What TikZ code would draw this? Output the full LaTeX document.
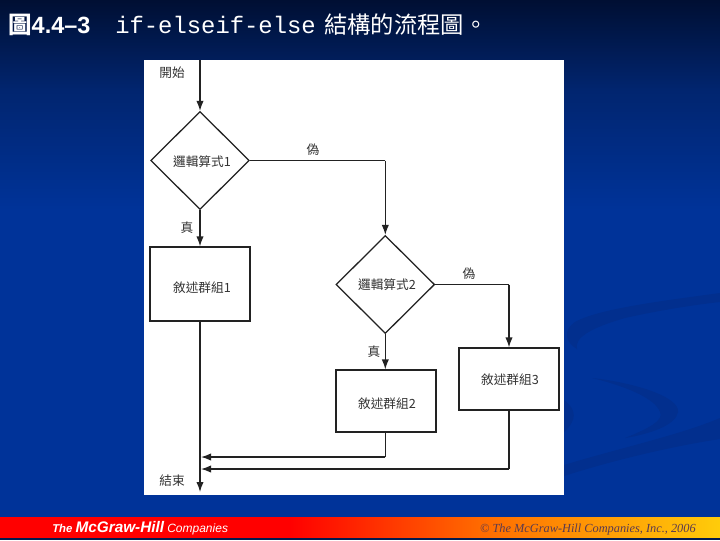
\documentclass[tikz,border=0pt]{standalone}
\usepackage{fontspec}
\setmainfont{Liberation Sans}
\newfontfamily\cjk{Noto Sans CJK TC}
\newfontfamily\monof{Liberation Mono}
\newfontfamily\serifit{Liberation Serif}
\usetikzlibrary{shapes.geometric,arrows.meta}
\definecolor{bgtop}{HTML}{000F33}
\definecolor{bgmid}{HTML}{01256F}
\definecolor{bgbot}{HTML}{003399}
\definecolor{ink}{HTML}{222222}
\definecolor{labelc}{HTML}{333333}
\definecolor{swoosh}{HTML}{022F8E}
\definecolor{footorange}{HTML}{FF6A00}
\definecolor{footyellow}{HTML}{FFCC0A}
\definecolor{copyc}{HTML}{5A3A50}
\tikzset{
  flow/.style={draw=ink,line width=0.95pt,fill=white,inner sep=0pt,text=labelc},
  boxnode/.style={flow,rectangle,minimum width=75pt,minimum height=#1},
  decision/.style={flow,diamond,minimum width=74pt,minimum height=73.5pt,aspect=1},
  lab/.style={text=labelc,font=\cjk\fontsize{9.5}{10}\selectfont,inner sep=0pt},
  link/.style={draw=ink,line width=0.95pt},
  arr/.style={link,-{Latex[length=7.5pt,width=5.5pt]}},
}
\begin{document}
\begin{tikzpicture}[x=0.75pt,y=-0.75pt]
\useasboundingbox (0,0) rectangle (720,540);
\fill[bgbot] (0,0) rectangle (720,517);
\shade[top color=bgtop,bottom color=bgmid] (0,0) rectangle (720,90);
\shade[top color=bgmid,bottom color=bgbot] (0,89.5) rectangle (720,210);
% swooshes
\fill[swoosh] (720,293) .. controls (670,300) and (600,308) .. (575,322) .. controls (563,330) and (565,342) .. (577,349) .. controls (574,338) and (590,328) .. (625,318) .. controls (660,310) and (700,304) .. (720,302) -- cycle;
\fill[swoosh] (592,378) .. controls (630,382) and (680,396) .. (678,412) .. controls (676,425) and (650,434) .. (625,438) .. controls (650,428) and (664,420) .. (660,412) .. controls (655,398) and (625,386) .. (592,378) -- cycle;
\fill[swoosh] (564,465) .. controls (620,448) and (680,435) .. (720,418) -- (720,439) .. controls (680,445) and (620,458) .. (564,476) -- cycle;
\fill[swoosh] (564,400) .. controls (577,410) and (577,420) .. (564,432) -- cycle;
% footer
\fill[red] (0,517) rectangle (290,538);
\shade[left color=red,right color=footorange] (289.5,517) rectangle (480,538);
\shade[left color=footorange,right color=footyellow] (479.5,517) rectangle (720,538);
\fill[bgmid!70!black] (0,538) rectangle (720,540);
% title
\node[anchor=west,inner sep=0pt,text=white] (ttl) at (8,25) {\fontsize{17.6}{18}\selectfont\bfseries{\cjk 圖}4.4--3};
\node[anchor=west,inner sep=0pt,text=white] (ttl2) at (115,25) {\monof\fontsize{17.9}{18}\selectfont if-elseif-else};
\node[anchor=west,inner sep=0pt,text=white] (ttl3) at (324,25) {\cjk\fontsize{17.5}{19}\selectfont 結構的流程圖。};
% footer texts
\node[anchor=west,inner sep=0pt,text=white] (brand) at (52,528.5) {\itshape\fontsize{8.5}{9}\selectfont\textbf{The} {\fontsize{11.5}{12}\selectfont\textbf{McGraw-Hill}} \fontsize{9}{10}\selectfont Companies};
\node[anchor=east,inner sep=0pt,text=copyc] (copy) at (696,530) {\serifit\fontsize{9.25}{10}\selectfont\itshape © The McGraw-Hill Companies, Inc., 2006};
% sheet
\fill[white] (144,60) rectangle (564,495);
\coordinate (start) at (200,60);
\node[decision] (d1) at (200,160.5) {};
\node[lab] at (202,162) {邏輯算式1};
\node[boxnode=55.5pt] (b1) at (200,284) {};
\node[lab] at (202,288) {敘述群組1};
\node[decision] (d2) at (385.3,284.5) {};
\node[lab] at (387,285) {邏輯算式2};
\node[boxnode=46.5pt] (b2) at (386,401) {};
\node[lab] at (387,404) {敘述群組2};
\node[boxnode=46.5pt] (b3) at (509,379) {};
\node[lab] at (510,380) {敘述群組3};
\coordinate (end) at (200,492);
\coordinate (m2) at (201,457);
\coordinate (m3) at (201,469);
\coordinate (c1) at (d2.north |- d1.east);
\coordinate (c2) at (b3.north |- d2.east);
\coordinate (c3) at (d2.south |- m2);
\coordinate (c4) at (b3.south |- m3);
\draw[arr] (start) -- (d1.north);
\draw[arr] (d1.south) -- (b1.north);
\draw[arr] (b1.south) -- (end);
\draw[link] (d1.east) -- (c1);
\draw[arr] (c1) -- (d2.north);
\draw[arr] (d2.south) -- (d2.south |- b2.north);
\draw[link] (d2.east) -- (c2);
\draw[arr] (c2) -- (b3.north);
\draw[link] (b2.south -| c3) -- (c3);
\draw[arr] (c3) -- (m2);
\draw[link] (b3.south) -- (c4);
\draw[arr] (c4) -- (m3);
\node[lab] (l1) at (172,73) {開始};
\node[lab] (l2) at (172,481) {結束};
\node[lab] (l3) at (313,150) {偽};
\node[lab] (l4) at (187,227.5) {真};
\node[lab] (l5) at (469,273.5) {偽};
\node[lab] (l6) at (374,352) {真};
\end{tikzpicture}
\end{document}
